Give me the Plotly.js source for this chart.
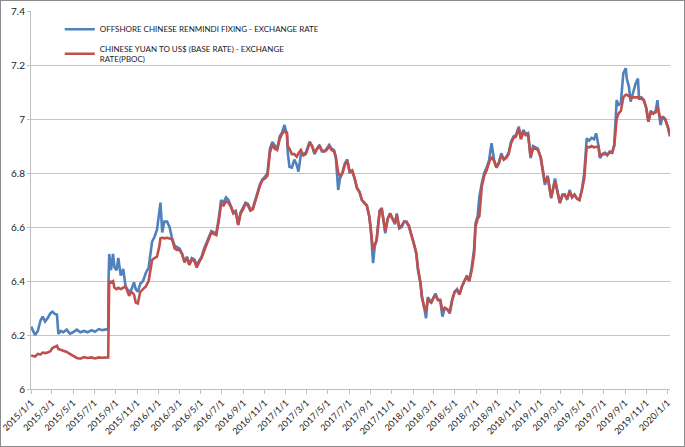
<!DOCTYPE html>
<html>
<head>
<meta charset="utf-8">
<script src="https://cdn.plot.ly/plotly-3.0.1.min.js"></script>
<style>
html,body{margin:0;padding:0;background:#fff;}
#wrap{position:relative;width:685px;height:447px;}
#chart{width:685px;height:447px;}
#frame{position:absolute;left:0;top:0;width:685px;height:447px;box-sizing:border-box;border:1px solid #8c8c8c;pointer-events:none;}
</style>
</head>
<body>
<div id="wrap"><div id="chart"></div><div id="frame"></div></div>
<script>
const seriesNames = [
  "OFFSHORE CHINESE RENMINDI FIXING - EXCHANGE RATE",
  "CHINESE YUAN TO US$ (BASE RATE) - EXCHANGE<br>RATE(PBOC)"
];

const dates = [
"2015-01-01","2015-01-12","2015-01-20","2015-01-28","2015-02-03","2015-02-10","2015-02-17","2015-02-25",
"2015-03-03","2015-03-10","2015-03-16","2015-03-20","2015-03-27","2015-04-03","2015-04-13","2015-04-22",
"2015-05-01","2015-05-12","2015-05-22","2015-06-02","2015-06-12","2015-06-23","2015-07-03","2015-07-14",
"2015-07-24","2015-08-03","2015-08-10","2015-08-11","2015-08-13","2015-08-18","2015-08-24","2015-08-28",
"2015-09-03","2015-09-08","2015-09-15","2015-09-22","2015-09-29","2015-10-09","2015-10-16","2015-10-23",
"2015-10-28","2015-11-03","2015-11-10","2015-11-18","2015-11-26","2015-12-04","2015-12-14","2015-12-21",
"2015-12-28","2016-01-04","2016-01-07","2016-01-12","2016-01-18","2016-01-26","2016-02-02","2016-02-09",
"2016-02-17","2016-02-24","2016-03-02","2016-03-09","2016-03-16","2016-03-23","2016-03-30","2016-04-06",
"2016-04-13","2016-04-20","2016-04-27","2016-05-04","2016-05-11","2016-05-18","2016-05-25","2016-06-01",
"2016-06-08","2016-06-15","2016-06-22","2016-06-29","2016-07-06","2016-07-13","2016-07-20","2016-07-27",
"2016-08-03","2016-08-10","2016-08-17","2016-08-24","2016-08-31","2016-09-07","2016-09-14","2016-09-21",
"2016-09-28","2016-10-05","2016-10-12","2016-10-19","2016-10-26","2016-11-02","2016-11-09","2016-11-16",
"2016-11-23","2016-11-30","2016-12-07","2016-12-14","2016-12-21","2016-12-28","2017-01-04","2017-01-06",
"2017-01-11","2017-01-18","2017-01-25","2017-02-01","2017-02-06","2017-02-13","2017-02-20","2017-02-27",
"2017-03-06","2017-03-10","2017-03-17","2017-03-24","2017-03-31","2017-04-07","2017-04-14","2017-04-21",
"2017-04-28","2017-05-05","2017-05-12","2017-05-19","2017-05-24","2017-05-31","2017-06-05","2017-06-12",
"2017-06-19","2017-06-26","2017-07-03","2017-07-10","2017-07-17","2017-07-24","2017-07-31","2017-08-07",
"2017-08-14","2017-08-21","2017-08-28","2017-09-01","2017-09-08","2017-09-13","2017-09-18","2017-09-22",
"2017-09-27","2017-10-03","2017-10-10","2017-10-13","2017-10-20","2017-10-27","2017-11-03","2017-11-10",
"2017-11-15","2017-11-22","2017-11-29","2017-12-06","2017-12-13","2017-12-20","2017-12-27","2018-01-03",
"2018-01-10","2018-01-15","2018-01-22","2018-01-26","2018-02-02","2018-02-07","2018-02-12","2018-02-22",
"2018-03-01","2018-03-06","2018-03-13","2018-03-20","2018-03-26","2018-04-02","2018-04-09","2018-04-16",
"2018-04-23","2018-04-30","2018-05-07","2018-05-14","2018-05-21","2018-05-28","2018-06-04","2018-06-11",
"2018-06-18","2018-06-25","2018-06-29","2018-07-05","2018-07-10","2018-07-17","2018-07-24","2018-07-31",
"2018-08-07","2018-08-14","2018-08-21","2018-08-28","2018-09-04","2018-09-11","2018-09-18","2018-09-25",
"2018-10-02","2018-10-09","2018-10-16","2018-10-23","2018-10-31","2018-11-06","2018-11-13","2018-11-20",
"2018-11-27","2018-12-04","2018-12-11","2018-12-18","2018-12-25","2019-01-02","2019-01-08","2019-01-14",
"2019-01-22","2019-01-29","2019-02-01","2019-02-12","2019-02-19","2019-02-26","2019-03-05","2019-03-12",
"2019-03-19","2019-03-26","2019-04-02","2019-04-09","2019-04-16","2019-04-23","2019-04-30","2019-05-07",
"2019-05-14","2019-05-21","2019-05-28","2019-06-04","2019-06-10","2019-06-17","2019-06-21","2019-06-28",
"2019-07-05","2019-07-12","2019-07-19","2019-07-26","2019-08-01","2019-08-05","2019-08-08","2019-08-13",
"2019-08-20","2019-08-27","2019-09-03","2019-09-06","2019-09-12","2019-09-17","2019-09-24","2019-10-01",
"2019-10-08","2019-10-11","2019-10-18","2019-10-25","2019-11-01","2019-11-07","2019-11-14","2019-11-21",
"2019-11-28","2019-12-03","2019-12-06","2019-12-12","2019-12-18","2019-12-25","2020-01-02","2020-01-08"
];

const offshoreFixing = [
6.231,6.200,6.215,6.255,6.268,6.250,6.262,6.280,
6.286,6.278,6.275,6.204,6.215,6.210,6.220,6.205,
6.210,6.220,6.210,6.215,6.210,6.218,6.212,6.222,
6.218,6.222,6.222,6.400,6.500,6.440,6.500,6.450,
6.440,6.485,6.420,6.445,6.379,6.360,6.370,6.395,
6.370,6.360,6.390,6.400,6.430,6.450,6.546,6.564,
6.590,6.660,6.690,6.580,6.620,6.620,6.600,6.560,
6.530,6.525,6.520,6.500,6.470,6.490,6.460,6.485,
6.480,6.460,6.475,6.490,6.520,6.540,6.560,6.585,
6.580,6.575,6.630,6.700,6.690,6.710,6.700,6.675,
6.655,6.660,6.610,6.655,6.670,6.690,6.685,6.665,
6.670,6.700,6.730,6.760,6.778,6.786,6.800,6.890,
6.915,6.900,6.890,6.935,6.950,6.978,6.940,6.880,
6.823,6.820,6.850,6.830,6.805,6.870,6.870,6.875,
6.900,6.916,6.900,6.870,6.890,6.904,6.880,6.880,
6.890,6.904,6.890,6.885,6.860,6.737,6.780,6.800,
6.836,6.850,6.800,6.810,6.780,6.743,6.730,6.700,
6.688,6.680,6.640,6.600,6.466,6.530,6.550,6.600,
6.660,6.670,6.600,6.577,6.630,6.651,6.630,6.610,
6.650,6.595,6.600,6.620,6.620,6.600,6.570,6.540,
6.500,6.440,6.390,6.340,6.300,6.262,6.340,6.320,
6.340,6.354,6.330,6.326,6.268,6.300,6.295,6.280,
6.330,6.360,6.370,6.350,6.380,6.400,6.420,6.400,
6.450,6.520,6.614,6.640,6.712,6.762,6.800,6.820,
6.848,6.910,6.850,6.820,6.840,6.873,6.850,6.860,
6.873,6.916,6.935,6.940,6.972,6.930,6.960,6.945,
6.948,6.855,6.900,6.895,6.890,6.855,6.800,6.756,
6.790,6.730,6.706,6.780,6.730,6.688,6.720,6.720,
6.700,6.737,6.710,6.720,6.705,6.700,6.737,6.800,
6.928,6.920,6.930,6.925,6.947,6.900,6.855,6.870,
6.875,6.865,6.880,6.875,6.904,7.027,7.070,7.050,
7.060,7.169,7.188,7.150,7.120,7.064,7.100,7.130,
7.150,7.080,7.080,7.070,7.040,6.990,7.030,7.020,
7.030,7.070,7.030,6.978,7.010,7.000,6.970,6.935
];

const pbocBaseRate = [
6.124,6.120,6.130,6.128,6.135,6.133,6.135,6.140,
6.152,6.158,6.160,6.148,6.145,6.140,6.137,6.130,
6.122,6.115,6.112,6.118,6.115,6.117,6.113,6.117,
6.116,6.117,6.117,6.230,6.400,6.395,6.400,6.375,
6.370,6.375,6.370,6.375,6.380,6.345,6.360,6.350,
6.320,6.317,6.360,6.370,6.380,6.400,6.478,6.485,
6.490,6.530,6.558,6.560,6.558,6.560,6.557,6.555,
6.520,6.515,6.515,6.500,6.470,6.485,6.460,6.480,
6.475,6.450,6.470,6.485,6.510,6.535,6.555,6.580,
6.575,6.570,6.620,6.685,6.680,6.695,6.690,6.675,
6.650,6.655,6.607,6.650,6.665,6.686,6.680,6.660,
6.665,6.695,6.725,6.755,6.774,6.780,6.790,6.875,
6.905,6.890,6.885,6.925,6.945,6.955,6.950,6.900,
6.890,6.870,6.870,6.860,6.873,6.885,6.865,6.870,
6.895,6.912,6.900,6.875,6.888,6.900,6.885,6.880,
6.885,6.900,6.885,6.880,6.860,6.800,6.790,6.800,
6.830,6.845,6.805,6.810,6.780,6.745,6.730,6.700,
6.690,6.680,6.640,6.600,6.515,6.535,6.550,6.600,
6.660,6.665,6.600,6.585,6.630,6.650,6.630,6.615,
6.645,6.600,6.605,6.620,6.618,6.605,6.570,6.540,
6.505,6.445,6.395,6.345,6.300,6.290,6.330,6.320,
6.340,6.345,6.330,6.330,6.290,6.300,6.295,6.285,
6.330,6.360,6.365,6.350,6.380,6.400,6.415,6.400,
6.440,6.500,6.600,6.630,6.640,6.750,6.790,6.810,
6.840,6.860,6.845,6.820,6.835,6.865,6.850,6.855,
6.870,6.910,6.930,6.935,6.965,6.925,6.950,6.940,
6.940,6.860,6.890,6.890,6.885,6.860,6.810,6.765,
6.785,6.735,6.710,6.770,6.735,6.690,6.715,6.720,
6.705,6.730,6.710,6.720,6.705,6.700,6.735,6.780,
6.897,6.895,6.900,6.895,6.897,6.895,6.860,6.870,
6.870,6.870,6.875,6.875,6.900,6.960,7.000,7.020,
7.030,7.080,7.090,7.090,7.085,7.080,7.080,7.080,
7.080,7.075,7.075,7.070,7.040,6.990,7.025,7.020,
7.025,7.045,7.030,7.000,7.005,7.000,6.970,6.940
];

const tickDates = [
"2015-01-01","2015-03-01","2015-05-01","2015-07-01","2015-09-01","2015-11-01",
"2016-01-01","2016-03-01","2016-05-01","2016-07-01","2016-09-01","2016-11-01",
"2017-01-01","2017-03-01","2017-05-01","2017-07-01","2017-09-01","2017-11-01",
"2018-01-01","2018-03-01","2018-05-01","2018-07-01","2018-09-01","2018-11-01",
"2019-01-01","2019-03-01","2019-05-01","2019-07-01","2019-09-01","2019-11-01",
"2020-01-01"
];
const tickLabels = [
"2015/1/1","2015/3/1","2015/5/1","2015/7/1","2015/9/1","2015/11/1",
"2016/1/1","2016/3/1","2016/5/1","2016/7/1","2016/9/1","2016/11/1",
"2017/1/1","2017/3/1","2017/5/1","2017/7/1","2017/9/1","2017/11/1",
"2018/1/1","2018/3/1","2018/5/1","2018/7/1","2018/9/1","2018/11/1",
"2019/1/1","2019/3/1","2019/5/1","2019/7/1","2019/9/1","2019/11/1",
"2020/1/1"
];
const yTicks = [6, 6.2, 6.4, 6.6, 6.8, 7, 7.2, 7.4];
const yTickLabels = ["6", "6.2", "6.4", "6.6", "6.8", "7", "7.2", "7.4"];

const FONT = "Lato, 'Liberation Sans', Arial, sans-serif";

const traces = [
  {x: dates, y: offshoreFixing, name: seriesNames[0], type: "scatter", mode: "lines",
   legendgroup: "offshore", line: {color: "#4F81BD", width: 2.6}},
  {x: dates, y: pbocBaseRate, name: seriesNames[1], type: "scatter", mode: "lines",
   legendgroup: "pboc", line: {color: "#C0504D", width: 2.6}}
];

const layout = {
  width: 685, height: 447,
  margin: {l: 31, r: 15, t: 11, b: 58, pad: 0},
  paper_bgcolor: "#ffffff", plot_bgcolor: "#ffffff",
  font: {family: FONT, size: 9, color: "#1a1a1a"},
  showlegend: true,
  legend: {x: 0.045, y: 0.99, xanchor: "left", yanchor: "top", traceorder: "grouped",
           bgcolor: "rgba(0,0,0,0)", font: {family: FONT, size: 8, color: "#1a1a1a"},
           itemwidth: 30, tracegroupgap: 3},
  xaxis: {type: "date", range: ["2014-12-31 12:00", "2020-01-08"],
          tickmode: "array", tickvals: tickDates, ticktext: tickLabels,
          tickangle: -45, tickfont: {family: FONT, size: 9, color: "#1a1a1a"},
          showgrid: false, zeroline: false, showline: true, linecolor: "#BFBFBF", linewidth: 1,
          ticks: "outside", ticklen: 4, tickcolor: "#BFBFBF", fixedrange: true},
  yaxis: {range: [6, 7.4], tickmode: "array", tickvals: yTicks, ticktext: yTickLabels,
          tickfont: {family: FONT, size: 10, color: "#1a1a1a"},
          showgrid: true, gridcolor: "#C4C4C4", gridwidth: 1, zeroline: false,
          showline: true, linecolor: "#BFBFBF", linewidth: 1,
          ticks: "outside", ticklen: 3, tickcolor: "#BFBFBF", fixedrange: true}
};

Plotly.newPlot("chart", traces, layout, {displayModeBar: false, staticPlot: true});
</script>
</body>
</html>
